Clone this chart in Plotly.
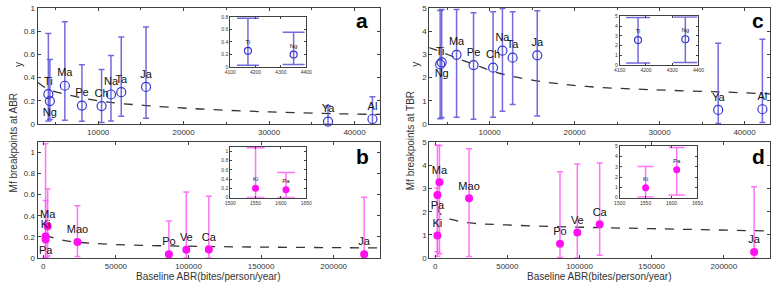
import plotly.graph_objects as go

# ---------------- data ----------------
# panels a / c : villages with baseline ABR up to ~43000
ac_names = ["Ti", "Ng", "Ma", "Pe", "Ch", "Na", "Ta", "Ja", "Ya", "Al"]
ac_x = [4170, 4350, 6100, 8100, 10400, 11500, 12700, 15600, 36900, 42100]
ac_pos = ["top center", "bottom center"] + ["top center"] * 8

a_y = [0.258, 0.198, 0.33, 0.16, 0.155, 0.255, 0.275, 0.32, 0.022, 0.044]
a_hi = [0.78, 0.555, 0.88, 0.51, 0.47, 0.59, 0.75, 0.835, 0.158, 0.236]
a_lo = [0.027, 0.04, 0.033, 0.025, 0.014, 0.028, 0.067, 0.05, 0.0, 0.0]
a_fit_x = [2900, 4150, 6000, 10500, 15600, 22000, 30000, 37500, 43000]
a_fit_y = [0.36, 0.30, 0.26, 0.195, 0.16, 0.13, 0.105, 0.09, 0.083]

c_y = [2.57, 2.66, 2.98, 2.54, 2.43, 3.16, 2.86, 2.96, 0.61, 0.64]
c_hi = [4.89, 4.93, 4.93, 4.79, 4.83, 4.97, 4.83, 4.88, 3.48, 3.65]
c_lo = [0.23, 0.28, 0.30, 0.21, 0.30, 0.55, 0.84, 0.35, 0.03, 0.07]
c_fit_x = [2800, 4030, 5960, 8080, 10970, 15600, 21380, 29090, 36790, 43000]
c_fit_y = [3.3, 3.14, 2.86, 2.58, 2.2, 1.86, 1.62, 1.48, 1.39, 1.30]

# panels b / d : villages with baseline ABR up to ~221000
bd_names = ["Ki", "Pa", "Ma", "Mao", "Po", "Ve", "Ca", "Ja"]
bd_x = [1550, 1610, 3000, 23500, 86500, 98500, 114000, 221000]

b_y = [0.205, 0.175, 0.30, 0.152, 0.037, 0.079, 0.082, 0.037]
b_hi = [1.08, 0.545, 0.652, 0.494, 0.35, 0.625, 0.585, 0.576]
b_lo = [0.005, 0.005, 0.02, 0.015, 0.0, 0.0, 0.0, 0.0]
b_pos = ["top center", "bottom center"] + ["top center"] * 6
b_fit_x = [1550, 3000, 6000, 12000, 23500, 50000, 97000, 150000, 232000]
b_fit_y = [0.225, 0.21, 0.195, 0.172, 0.15, 0.128, 0.113, 0.104, 0.096]

d_y = [0.98, 2.72, 3.27, 2.58, 0.62, 1.10, 1.46, 0.26]
d_hi = [3.02, 4.87, 4.86, 4.72, 3.73, 4.06, 4.10, 3.08]
d_lo = [0.08, 0.27, 0.19, 0.07, 0.03, 0.0, 0.12, 0.0]
d_pos = ["top center", "bottom center"] + ["top center"] * 6
d_fit_x = [1550, 3000, 6000, 12000, 24000, 50000, 97000, 150000, 232000]
d_fit_y = [2.2, 1.95, 1.8, 1.66, 1.52, 1.43, 1.34, 1.27, 1.17]

# ---------------- style ----------------
W, H = 778, 288
FONT = "Liberation Sans, Arial, sans-serif"
BLUE = "#3535d0"
BLUE_BAR = "rgba(90,80,215,0.85)"
MAG = "#ff10f0"
MAG_BAR = "rgba(255,90,245,0.85)"
AX = "#404040"


def px_x(p):
    return p / W


def px_y(p):
    return 1 - p / H


fig = go.Figure()


def err(y, hi, lo):
    return [h - v for h, v in zip(hi, y)], [v - l for v, l in zip(y, lo)]


def add_points(x, y, hi, lo, names, pos, filled, xa, ya, cap, msize, tsize):
    up, dn = err(y, hi, lo)
    fig.add_trace(go.Scatter(
        x=x, y=y, mode="markers+text", text=names, textposition=pos,
        textfont=dict(family=FONT, size=tsize, color="#111"),
        marker=dict(size=msize, color=MAG if filled else "rgba(0,0,0,0)",
                    symbol="circle",
                    line=dict(color=MAG if filled else BLUE, width=0 if filled else 1.2)),
        error_y=dict(type="data", symmetric=False, array=up, arrayminus=dn,
                     color=MAG_BAR if filled else BLUE_BAR, thickness=1.5, width=cap),
        xaxis=xa, yaxis=ya, showlegend=False, cliponaxis=False))


def add_fit(x, y, xa, ya):
    fig.add_trace(go.Scatter(x=x, y=y, mode="lines", line=dict(color="#333", width=1.3, dash="dash", shape="spline"),
                             xaxis=xa, yaxis=ya, showlegend=False, hoverinfo="skip"))


# main panels
add_fit(a_fit_x, a_fit_y, "x", "y")
add_points(ac_x, a_y, a_hi, a_lo, ac_names, ac_pos, False, "x", "y", 3, 9, 11)
add_fit(b_fit_x, b_fit_y, "x2", "y2")
add_points(bd_x, b_y, b_hi, b_lo, bd_names, b_pos, True, "x2", "y2", 3, 8, 11)
add_fit(c_fit_x, c_fit_y, "x3", "y3")
add_points(ac_x, c_y, c_hi, c_lo, ac_names, ac_pos, False, "x3", "y3", 3, 9, 11)
add_fit(d_fit_x, d_fit_y, "x4", "y4")
add_points(bd_x, d_y, d_hi, d_lo, bd_names, d_pos, True, "x4", "y4", 3, 8, 11)

# insets (first two villages)
add_points(ac_x[:2], a_y[:2], a_hi[:2], a_lo[:2], ac_names[:2], ["top center"] * 2, False, "x5", "y5", 11, 7, 6)
add_points(bd_x[:2], b_y[:2], b_hi[:2], b_lo[:2], bd_names[:2], ["top center"] * 2, True, "x6", "y6", 9, 7, 6)
add_points(ac_x[:2], c_y[:2], c_hi[:2], c_lo[:2], ac_names[:2], ["top center"] * 2, False, "x7", "y7", 12, 7, 6)
add_points(bd_x[:2], d_y[:2], d_hi[:2], d_lo[:2], bd_names[:2], ["top center"] * 2, True, "x8", "y8", 8, 7, 6)


def axis(dom, rng, anchor, tickvals=None, dtick=None, minor=None, fsize=8, fmt=None, ticklen=3):
    d = dict(domain=dom, range=rng, anchor=anchor, showgrid=False, zeroline=False,
             showline=True, linecolor=AX, linewidth=1, mirror="allticks",
             ticks="inside", ticklen=ticklen, tickcolor=AX,
             tickfont=dict(family=FONT, size=fsize, color="#333"))
    if tickvals is not None:
        d["tickmode"] = "array"
        d["tickvals"] = tickvals
    elif dtick is not None:
        d["dtick"] = dtick
        d["tick0"] = 0
    if minor:
        d["minor"] = dict(dtick=minor, ticks="inside", ticklen=2, tickcolor=AX)
    if fmt:
        d["tickformat"] = fmt
    return d


xa_dom = [px_x(32), px_x(380)]
xc_dom = [px_x(430), px_x(776)]
ya_dom = [px_y(124), px_y(4)]
yb_dom = [px_y(262.3), px_y(142.7)]

layout = dict(
    width=W, height=H, margin=dict(l=0, r=0, t=0, b=0),
    paper_bgcolor="white", plot_bgcolor="white",
    font=dict(family=FONT, color="#333"),
    xaxis=axis(xa_dom, [2900, 43000], "y", tickvals=[10000, 20000, 30000, 40000], minor=5000, fmt="d"),
    yaxis=axis(ya_dom, [0, 1], "x", dtick=0.2),
    xaxis2=axis(xa_dom, [-4000, 232000], "y2", tickvals=[0, 50000, 100000, 150000, 200000], fmt="d"),
    yaxis2=axis(yb_dom, [0, 1.095], "x2", tickvals=[0, 0.2, 0.4, 0.6, 0.8, 1]),
    xaxis3=axis(xc_dom, [2900, 43000], "y3", tickvals=[10000, 20000, 30000, 40000], minor=5000, fmt="d"),
    yaxis3=axis(ya_dom, [0, 5], "x3", dtick=1),
    xaxis4=axis(xc_dom, [-4000, 232000], "y4", tickvals=[0, 50000, 100000, 150000, 200000], fmt="d"),
    yaxis4=axis(yb_dom, [0, 5], "x4", dtick=1),
    # insets
    xaxis5=axis([px_x(227.7), px_x(305)], [4100, 4400], "y5", tickvals=[4100, 4200, 4300, 4400], fsize=5, fmt="d", ticklen=2),
    yaxis5=axis([px_y(65), px_y(13.3)], [0, 0.8], "x5", tickvals=[0, 0.2, 0.4, 0.6, 0.8], fsize=5, ticklen=2),
    xaxis6=axis([px_x(227.7), px_x(305)], [1500, 1650], "y6", tickvals=[1500, 1550, 1600, 1650], fsize=5, fmt="d", ticklen=2),
    yaxis6=axis([px_y(200), px_y(147.3)], [0, 1.1], "x6", tickvals=[0, 0.2, 0.4, 0.6, 0.8, 1], fsize=5, ticklen=2),
    xaxis7=axis([px_x(623.3), px_x(703.3)], [4100, 4400], "y7", tickvals=[4100, 4200, 4300, 4400], fsize=5, fmt="d", ticklen=2),
    yaxis7=axis([px_y(63.3), px_y(12.7)], [0, 5], "x7", dtick=1, fsize=5, ticklen=2),
    xaxis8=axis([px_x(623.3), px_x(702.3)], [1500, 1650], "y8", tickvals=[1500, 1550, 1600, 1650], fsize=5, fmt="d", ticklen=2),
    yaxis8=axis([px_y(200), px_y(146.7)], [0, 5], "x8", dtick=1, fsize=5, ticklen=2),
)
fig.update_layout(**layout)

ann = []


def txt(x, y, s, size, angle=0, bold=False):
    ann.append(dict(x=px_x(x), y=px_y(y), xref="paper", yref="paper", text=("<b>%s</b>" % s) if bold else s,
                    showarrow=False, textangle=angle, xanchor="center", yanchor="middle",
                    font=dict(family=FONT, size=size, color="#000" if bold else "#333")))


txt(362, 17, "a", 21, bold=True)
txt(362, 157, "b", 21, bold=True)
txt(764, 17, "c", 21, bold=True)
txt(764, 157, "d", 21, bold=True)
txt(12, 62, "y", 10, angle=-90)
txt(8, 143, "Mf breakpoints at ABR", 10, angle=-90)
txt(415, 62, "y", 10, angle=-90)
txt(411, 141, "Mf breakpoints at TBR", 10, angle=-90)
txt(206, 281, "Baseline ABR(bites/person/year)", 10)
txt(603, 281, "Baseline ABR(bites/person/year)", 10)
fig.update_layout(annotations=ann)

fig.write_html(
    "out.html",
    config={"displayModeBar": False},
    post_script="document.documentElement.style.margin='0';document.body.style.margin='0';"
                "document.body.style.overflow='hidden';document.documentElement.style.overflow='hidden';",
)
